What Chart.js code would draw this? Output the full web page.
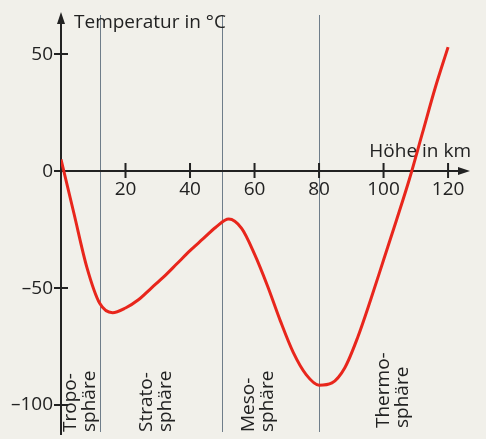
<!DOCTYPE html>
<html>
<head>
<meta charset="utf-8">
<script src="https://cdn.jsdelivr.net/npm/chart.js@4/dist/chart.umd.min.js"></script>
<style>
  html, body { margin: 0; padding: 0; background: #f1f0ea; }
  #wrap { width: 486px; height: 439px; }
</style>
</head>
<body>
<div id="wrap"><canvas id="c" width="486" height="439"></canvas></div>
<script>
// Height (km) and temperature (°C)
const heights = [0, 4, 8, 12, 16, 20, 24, 28, 32, 36, 40, 44, 48, 52, 56, 60, 64, 68, 72, 76, 80, 84, 88, 92, 96, 100, 104, 108, 112, 116, 120];
const temps   = [5, -18, -41, -56.5, -60.5, -58.5, -55, -50, -45, -39.5, -34, -29, -24, -20.5, -24.5, -35.5, -49, -64, -77.5, -87, -91.5, -90.5, -84, -71, -55, -38, -21, -3.5, 16, 35.5, 53];

const xTickValues = [20, 40, 60, 80, 100, 120];
const yTickValues = [50, 0, -50, -100];
const layerBounds = [12, 50, 80];
const layerNames = [["Tropo-", "sphäre"], ["Strato-", "sphäre"], ["Meso-", "sphäre"], ["Thermo-", "sphäre"]];
const layerLabelAt = [5.9, 29.5, 61, 103];
const yTitle = "Temperatur in °C";
const xTitle = "Höhe in km";

const FONT = '"Open Sans", "DejaVu Sans", sans-serif';
const FSIZE = '500 19px ';
const INK = '#222222';

const axesPlugin = {
  id: 'axesPlugin',
  beforeDraw(chart) {
    const ctx = chart.ctx;
    ctx.save();
    ctx.fillStyle = '#f1f0ea';
    ctx.fillRect(0, 0, chart.width, chart.height);
    ctx.restore();
  },
  beforeDatasetsDraw(chart) {
    const ctx = chart.ctx;
    const xs = chart.scales.x, ys = chart.scales.y;
    const x0 = xs.getPixelForValue(0), y0 = ys.getPixelForValue(0);
    const top = chart.chartArea.top, bottom = chart.chartArea.bottom, right = chart.chartArea.right;
    ctx.save();
    if ('fontKerning' in ctx) ctx.fontKerning = 'none';
    // layer boundaries
    ctx.strokeStyle = '#6f7d8a';
    ctx.lineWidth = 1;
    layerBounds.forEach(b => {
      const px = Math.round(xs.getPixelForValue(b)) + 0.5;
      ctx.beginPath(); ctx.moveTo(px, top + 3); ctx.lineTo(px, bottom); ctx.stroke();
    });
    // layer labels (rotated)
    ctx.fillStyle = INK;
    ctx.font = FSIZE + FONT;
    ctx.textAlign = 'left';
    ctx.textBaseline = 'middle';
    layerNames.forEach((lines, i) => {
      const cx = xs.getPixelForValue(layerLabelAt[i]);
      const by = i === 3 ? bottom - 4 : bottom;
      ctx.save();
      ctx.translate(cx, by);
      ctx.rotate(-Math.PI / 2);
      ctx.fillText(lines[0], 0, -9.5);
      ctx.fillText(lines[1], 0, 9.5);
      ctx.restore();
    });
    // axes
    ctx.strokeStyle = INK;
    ctx.fillStyle = INK;
    ctx.lineWidth = 2;
    ctx.beginPath();
    ctx.moveTo(x0, bottom + 3); ctx.lineTo(x0, top + 8);
    ctx.moveTo(x0 - 7, y0); ctx.lineTo(right - 8, y0);
    ctx.stroke();
    // arrows
    ctx.beginPath();
    ctx.moveTo(x0, top); ctx.lineTo(x0 - 4, top + 12); ctx.lineTo(x0 + 4, top + 12); ctx.closePath(); ctx.fill();
    ctx.beginPath();
    ctx.moveTo(right, y0); ctx.lineTo(right - 12, y0 - 4); ctx.lineTo(right - 12, y0 + 4); ctx.closePath(); ctx.fill();
    // ticks
    ctx.lineWidth = 2;
    ctx.beginPath();
    xTickValues.forEach(v => {
      const px = xs.getPixelForValue(v);
      ctx.moveTo(px, y0 - 8); ctx.lineTo(px, y0 + 7);
    });
    yTickValues.forEach(v => {
      const py = ys.getPixelForValue(v);
      ctx.moveTo(x0 - 7, py); ctx.lineTo(x0 + 7, py);
    });
    ctx.stroke();
    // tick labels
    ctx.font = FSIZE + FONT;
    ctx.textAlign = 'center';
    ctx.textBaseline = 'top';
    xTickValues.forEach(v => ctx.fillText(String(v), xs.getPixelForValue(v), y0 + 9));
    ctx.textAlign = 'right';
    ctx.textBaseline = 'middle';
    yTickValues.forEach(v => ctx.fillText(v < 0 ? '\u2013' + Math.abs(v) : String(v), x0 - 8, ys.getPixelForValue(v)));
    // titles
    ctx.textAlign = 'left';
    ctx.textBaseline = 'alphabetic';
    ctx.fillText(yTitle, x0 + 13, top + 16);
    ctx.textAlign = 'right';
    ctx.fillText(xTitle, right + 1, y0 - 14);
    ctx.restore();
  }
};

new Chart(document.getElementById('c'), {
  type: 'line',
  data: {
    datasets: [{
      data: heights.map((h, i) => ({ x: h, y: temps[i] })),
      borderColor: '#e8261c',
      borderWidth: 3,
      pointRadius: 0,
      cubicInterpolationMode: 'monotone',
      fill: false
    }]
  },
  options: {
    responsive: false,
    animation: false,
    layout: { padding: { left: 61, right: 16, top: 12, bottom: 7 } },
    plugins: { legend: { display: false }, tooltip: { enabled: false } },
    scales: {
      x: { type: 'linear', min: 0, max: 126.8, display: false },
      y: { type: 'linear', min: -111.5, max: 68, display: false }
    }
  },
  plugins: [axesPlugin]
});
</script>
</body>
</html>
